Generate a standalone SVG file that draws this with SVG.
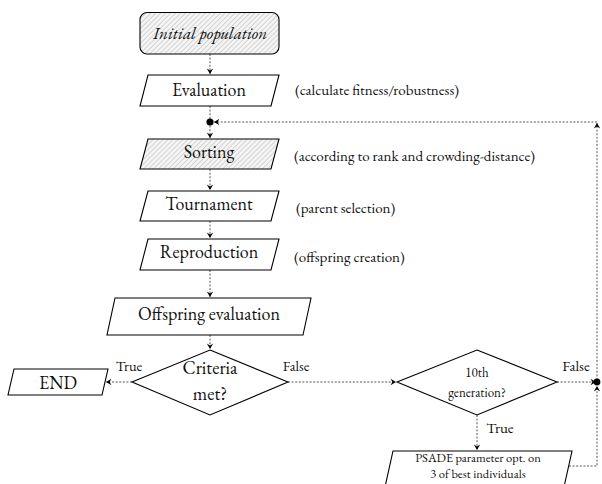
<svg xmlns="http://www.w3.org/2000/svg" width="602" height="484" viewBox="0 0 602 484">
<defs>
<pattern id="hatch" patternUnits="userSpaceOnUse" width="3.5" height="3.5" patternTransform="rotate(45)">
<rect width="3.5" height="3.5" fill="#f4f4f4"/>
<line x1="0" y1="0" x2="0" y2="3.5" stroke="#9a9a9a" stroke-width="0.7"/>
</pattern>
<marker id="arr" viewBox="-6 -4 7 8" refX="0" refY="0" markerWidth="7" markerHeight="8" orient="auto" markerUnits="userSpaceOnUse">
<path d="M0,0 L-5.5,-3.2 L-3.6,0 L-5.5,3.2 Z" fill="#000"/>
</marker>
</defs>
<style>
.box{stroke:#000;stroke-width:1.1;fill:#fff}
.hat{fill:url(#hatch)}
text{font-family:'EB Garamond','Noto Serif','DejaVu Serif',serif;fill:#111}
.t{text-anchor:middle}
.big{font-size:18px}
.mid{font-size:14.5px}
.sm{font-size:12.5px}
.c{font-size:15px}
.e{fill:none;stroke:#444;stroke-width:0.9;stroke-dasharray:2 1.6}
</style>

<g id="connectors">
<path class="e" d="M210,54 V74" marker-end="url(#arr)"/>
<path class="e" d="M210,106 V122"/>
<path class="e" d="M210,122 V138" marker-end="url(#arr)"/>
<path class="e" d="M210,169 V190" marker-end="url(#arr)"/>
<path class="e" d="M210,221 V238" marker-end="url(#arr)"/>
<path class="e" d="M210,270 V297" marker-end="url(#arr)"/>
<path class="e" d="M210,335 V349" marker-end="url(#arr)"/>
<path class="e" d="M132,382 H106" marker-end="url(#arr)"/>
<path class="e" d="M288,382 H396" marker-end="url(#arr)"/>
<path class="e" d="M557,382 H596" marker-end="url(#arr)"/>
<path class="e" d="M477,415 V450" marker-end="url(#arr)"/>
<path class="e" d="M569,466 H597 V386" marker-end="url(#arr)"/>
<path class="e" d="M597,380 V123" marker-end="url(#arr)"/>
<path class="e" d="M597,122 H214" marker-end="url(#arr)"/>
<circle cx="210" cy="122" r="3.6" fill="#000"/>
<circle cx="597" cy="382" r="3.4" fill="#000"/>
</g>

<g id="initial">
<rect x="140" y="12.5" width="139" height="41.5" rx="7" class="box hat"/>
<text x="210" y="38.5" class="t" style="font-size:17px;font-style:italic">Initial population</text>
</g>

<g id="evaluation">
<polygon points="148,75 279,75 271,106 140,106" class="box"/>
<text x="209" y="96" class="t big">Evaluation</text>
</g>
<text x="295" y="95" class="c">(calculate fitness/robustness)</text>

<g id="sorting">
<polygon points="148,139 279,139 271,169 140,169" class="box hat"/>
<text x="209" y="158" class="t big">Sorting</text>
</g>
<text x="294" y="161" class="c">(according to rank and crowding-distance)</text>

<g id="tournament">
<polygon points="148,191 279,191 271,221 140,221" class="box"/>
<text x="209" y="210" class="t big">Tournament</text>
</g>
<text x="296" y="213" class="c">(parent selection)</text>

<g id="reproduction">
<polygon points="148,239 279,239 271,270 140,270" class="box"/>
<text x="209" y="258" class="t big">Reproduction</text>
</g>
<text x="294" y="262" class="c">(offspring creation)</text>

<g id="offspring">
<polygon points="115,298 311,298 303,335 107,335" class="box"/>
<text x="209" y="320" class="t big">Offspring evaluation</text>
</g>

<g id="criteria">
<polygon points="210,350 288,382 210,415 132,382" class="box"/>
<text x="210" y="374" class="t" style="font-size:18.5px">Criteria</text>
<text x="210" y="400" class="t" style="font-size:18.5px">met?</text>
</g>
<text x="129" y="371" class="t mid">True</text>
<text x="296" y="371" class="t mid">False</text>

<g id="end">
<polygon points="14,369 108,369 102,395 8,395" class="box"/>
<text x="58" y="388.5" class="t big">END</text>
</g>

<g id="tenth">
<polygon points="477,350 557,382 477,415 397,382" class="box"/>
<text x="477" y="377" class="t" style="font-size:13px">10th</text>
<text x="477" y="397" class="t" style="font-size:13px">generation?</text>
</g>
<text x="576" y="371" class="t" style="font-size:15px">False</text>
<text x="500" y="433" class="t" style="font-size:15px">True</text>

<g id="psade">
<polygon points="393,451 572,451 564,487 385,487" class="box"/>
<text x="478" y="462" class="t sm">PSADE parameter opt. on</text>
<text x="478" y="478" class="t sm">3 of best individuals</text>
</g>
</svg>
